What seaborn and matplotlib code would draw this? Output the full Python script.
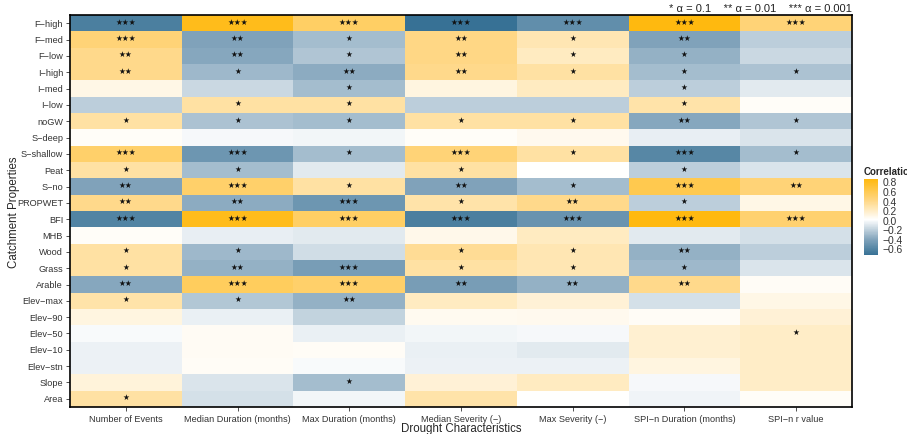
import numpy as np
import pandas as pd
import matplotlib
matplotlib.use("Agg")
import matplotlib.pyplot as plt
import seaborn as sns
from matplotlib.colors import LinearSegmentedColormap

#%% Données
properties = ['F\u2212high', 'F\u2212med', 'F\u2212low', 'I\u2212high', 'I\u2212med', 'I\u2212low',
              'noGW', 'S\u2212deep', 'S\u2212shallow', 'Peat', 'S\u2212no', 'PROPWET', 'BFI',
              'MHB', 'Wood', 'Grass', 'Arable', 'Elev\u2212max', 'Elev\u221290', 'Elev\u221250',
              'Elev\u221210', 'Elev\u2212stn', 'Slope', 'Area']
characteristics = ['Number of Events', 'Median Duration (months)', 'Max Duration (months)',
                   'Median Severity (\u2212)', 'Max Severity (\u2212)',
                   'SPI\u2212n Duration (months)', 'SPI\u2212n r value']

n_events = [-0.65, 0.45, 0.38, 0.38, 0.08, -0.22, 0.30, 0.02, 0.50, 0.30, -0.42, 0.38,
            -0.62, 0.02, 0.30, 0.30, -0.40, 0.28, 0.10, -0.02, -0.06, -0.06, 0.12, 0.30]
med_duration = [0.80, -0.42, -0.40, -0.32, -0.18, 0.30, -0.28, -0.03, -0.50, -0.30, 0.50, -0.38,
                0.80, -0.08, -0.32, -0.35, 0.55, -0.25, -0.07, 0.04, 0.04, 0.03, -0.12, -0.14]
max_duration = [0.52, -0.30, -0.26, -0.38, -0.30, 0.30, -0.30, -0.04, -0.30, -0.10, 0.30, -0.50,
                0.52, -0.10, -0.15, -0.45, 0.50, -0.35, -0.20, -0.07, 0.03, -0.02, -0.30, -0.04]
med_severity = [-0.74, 0.40, 0.40, 0.38, 0.10, -0.22, 0.30, 0.02, 0.45, 0.30, -0.42, 0.28,
                -0.65, 0.07, 0.35, 0.30, -0.45, 0.20, 0.05, -0.04, -0.07, -0.06, 0.14, 0.28]
max_severity = [-0.55, 0.25, 0.20, 0.30, 0.20, -0.22, 0.30, 0.06, 0.30, 0.00, -0.30, 0.38,
                -0.52, 0.20, 0.25, 0.25, -0.35, 0.14, 0.06, -0.03, -0.10, -0.06, 0.20, 0.00]
spi_duration = [0.85, -0.42, -0.35, -0.30, -0.22, 0.28, -0.40, -0.08, -0.60, -0.22, 0.60, -0.22,
                0.85, -0.10, -0.35, -0.32, 0.38, -0.14, 0.03, 0.15, 0.15, 0.10, -0.03, -0.05]
spi_r = [0.45, -0.22, -0.18, -0.28, -0.10, 0.02, -0.26, -0.12, -0.30, -0.12, 0.45, 0.08,
         0.48, -0.14, -0.22, -0.12, 0.03, 0.08, 0.14, 0.18, 0.18, 0.18, 0.18, 0.02]

# niveaux de significativité (nombre d'étoiles)
sig_events = [3, 3, 2, 2, 0, 0, 1, 0, 3, 1, 2, 2, 3, 0, 1, 1, 2, 1, 0, 0, 0, 0, 0, 1]
sig_med_dur = [3, 2, 2, 1, 0, 1, 1, 0, 3, 1, 3, 2, 3, 0, 1, 2, 3, 1, 0, 0, 0, 0, 0, 0]
sig_max_dur = [3, 1, 1, 2, 1, 1, 1, 0, 1, 0, 1, 3, 3, 0, 0, 3, 3, 2, 0, 0, 0, 0, 1, 0]
sig_med_sev = [3, 2, 2, 2, 0, 0, 1, 0, 3, 1, 2, 1, 3, 0, 1, 1, 2, 0, 0, 0, 0, 0, 0, 0]
sig_max_sev = [3, 1, 1, 1, 0, 0, 1, 0, 1, 0, 1, 2, 3, 0, 1, 1, 2, 0, 0, 0, 0, 0, 0, 0]
sig_spi_dur = [3, 2, 1, 1, 1, 1, 2, 0, 3, 1, 3, 1, 3, 0, 2, 1, 2, 0, 0, 0, 0, 0, 0, 0]
sig_spi_r = [3, 0, 0, 1, 0, 0, 1, 0, 1, 0, 2, 0, 3, 0, 0, 0, 0, 0, 0, 1, 0, 0, 0, 0]

#%% Tableaux
df = pd.DataFrame(np.column_stack([n_events, med_duration, max_duration, med_severity,
                                   max_severity, spi_duration, spi_r]),
                  index=properties, columns=characteristics)
sig = np.column_stack([sig_events, sig_med_dur, sig_max_dur, sig_med_sev,
                       sig_max_sev, sig_spi_dur, sig_spi_r])
stars = np.vectorize(lambda k: '\u2605' * k)(sig)

cmap = LinearSegmentedColormap.from_list(
    'corr', [(0.0, '#1F6189'), (0.25, '#7FA2BA'), (0.5, '#FFFFFF'),
             (0.75, '#FFD57E'), (1.0, '#FFB90F')])

#%% Figure
sns.set_style('white')
plt.rcParams['font.family'] = ['Liberation Sans', 'DejaVu Sans']

fig = plt.figure(figsize=(9.07, 4.35), dpi=100)
W, H = 907, 435
ax = fig.add_axes([70 / W, 1 - 408 / H, 782 / W, 392 / H])
cax = fig.add_axes([864 / W, 1 - 256 / H, 14 / W, 76 / H])

sns.heatmap(df, ax=ax, cbar_ax=cax, cmap=cmap, center=0, vmin=-0.74, vmax=0.85,
            annot=stars, fmt='', annot_kws={'fontsize': 5.5, 'color': '#111111',
                                            'family': ['DejaVu Sans']},
            cbar_kws={'ticks': [-0.6, -0.4, -0.2, 0.0, 0.2, 0.4, 0.6, 0.8]})

# étoiles légèrement au-dessus du centre
for t in ax.texts:
    x, y = t.get_position()
    t.set_position((x, y - 0.12))

for s in ax.spines.values():
    s.set_visible(True)
    s.set_color('black')
    s.set_linewidth(1.2)

ax.tick_params(axis='both', which='both', length=3, width=0.6, color='#333333',
               labelsize=6.6, labelcolor='#333333', pad=2, bottom=True, left=True)
ax.set_yticklabels(properties, rotation=0)
ax.set_xticklabels(characteristics, rotation=0)
ax.set_xlabel('')
ax.set_ylabel('')
fig.text(461 / W, 1 - 429.5 / H, 'Drought Characteristics', fontsize=8.3, ha='center', va='center')
fig.text(14 / W, 1 - 212 / H, 'Catchment Properties', fontsize=8.3, ha='center', va='center',
         rotation=90)

# barre de couleur
cb = ax.collections[0].colorbar
cb.outline.set_visible(False)
cax.tick_params(direction='in', color='white', length=3, width=0.6, labelsize=7.4,
                left=True, right=True, labelcolor='#333333', pad=3)
cax.set_yticklabels(['\u22120.6', '\u22120.4', '\u22120.2', '0.0', '0.2', '0.4', '0.6', '0.8'])
fig.text(864 / W, 1 - 177 / H, 'Correlation', fontsize=7, fontweight='bold', ha='left', va='bottom')

fig.text(852 / W, 1 - 9 / H, '* \u03b1 = 0.1    ** \u03b1 = 0.01    *** \u03b1 = 0.001',
         fontsize=8, ha='right', va='center', color='#222222')

fig.savefig('out.png', dpi=100)
